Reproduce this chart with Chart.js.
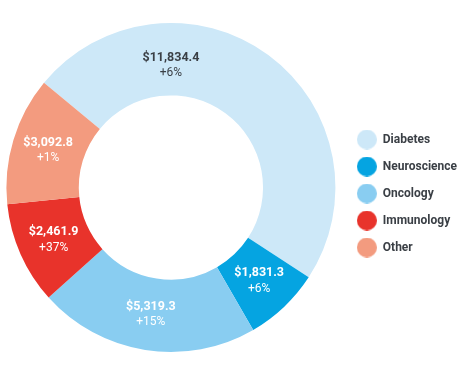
<!DOCTYPE html>
<html>
<head>
<meta charset="utf-8">
<script src="https://cdn.jsdelivr.net/npm/chart.js@4/dist/chart.umd.min.js"></script>
<style>
  html, body { margin: 0; padding: 0; background: #ffffff; }
  #wrap { position: relative; width: 473px; height: 368px; }
</style>
</head>
<body>
<div id="wrap"><canvas id="c" width="473" height="368"></canvas></div>
<script>
const categories = ["Diabetes", "Neuroscience", "Oncology", "Immunology", "Other"];
const sales = [11834.4, 1831.3, 5319.3, 2461.9, 3092.8];
const growth = ["+6%", "+6%", "+15%", "+37%", "+1%"];
const colors = ["#cde8f8", "#05a4e1", "#89cdf1", "#e8332b", "#f39b7f"];
const labelColors = ["#3a3f45", "#ffffff", "#ffffff", "#ffffff", "#ffffff"];

// label placement tweak for the big slice (its label sits at the top of the ring)
const LABEL_OVERRIDE = { 0: { angle: -90, dr: -6 } };

const FONT = "Roboto, 'DejaVu Sans', sans-serif";

function circleImage(color) {
  const c = document.createElement('canvas');
  c.width = 20; c.height = 20;
  const g = c.getContext('2d');
  g.fillStyle = color;
  g.beginPath(); g.arc(10, 10, 10, 0, Math.PI * 2); g.fill();
  return c;
}

function fmt(v) {
  return '$' + v.toLocaleString('en-US', {minimumFractionDigits: 1, maximumFractionDigits: 1});
}

const sliceLabels = {
  id: 'sliceLabels',
  afterDatasetsDraw(chart) {
    const ctx = chart.ctx;
    const meta = chart.getDatasetMeta(0);
    meta.data.forEach((arc, i) => {
      const p = arc.getProps(['x', 'y', 'startAngle', 'endAngle', 'innerRadius', 'outerRadius'], true);
      let ang = (p.startAngle + p.endAngle) / 2;
      let r = (p.innerRadius + p.outerRadius) / 2;
      const ov = LABEL_OVERRIDE[i];
      if (ov) {
        ang = ov.angle * Math.PI / 180;
        r += ov.dr;
      }
      const x = p.x + Math.cos(ang) * r;
      const y = p.y + Math.sin(ang) * r;
      ctx.save();
      ctx.textAlign = 'center';
      ctx.textBaseline = 'middle';
      ctx.fillStyle = labelColors[i];
      ctx.font = "bold 12.5px " + FONT;
      ctx.fillText(fmt(sales[i]), x, y - 7.5);
      ctx.font = "12px " + FONT;
      ctx.fillText(growth[i], x, y + 8);
      ctx.restore();
    });
  }
};

new Chart(document.getElementById('c'), {
  type: 'doughnut',
  data: {
    labels: categories,
    datasets: [{
      data: sales,
      backgroundColor: colors,
      borderWidth: 0,
      hoverOffset: 0
    }]
  },
  options: {
    responsive: false,
    animation: false,
    rotation: -50.5,
    cutout: '56%',
    layout: { padding: { top: 23, bottom: 16, left: 0, right: 6 } },
    plugins: {
      tooltip: { enabled: false },
      legend: {
        position: 'right',
        title: { display: true, text: '', font: { size: 10, lineHeight: 1 }, padding: { top: 1, bottom: 1 } },
        labels: {
          font: { family: FONT, size: 12, weight: 'bold' },
          color: '#3a3f45',
          usePointStyle: true,
          pointStyleWidth: 20,
          boxWidth: 20,
          boxHeight: 12,
          padding: 15,
          generateLabels(chart) {
            return categories.map((c, i) => ({
              text: c,
              fillStyle: colors[i],
              strokeStyle: colors[i],
              lineWidth: 0,
              pointStyle: circleImage(colors[i]),
              hidden: false,
              index: i,
              fontColor: '#3a3f45'
            }));
          }
        }
      }
    }
  },
  plugins: [sliceLabels]
});
</script>
</body>
</html>
